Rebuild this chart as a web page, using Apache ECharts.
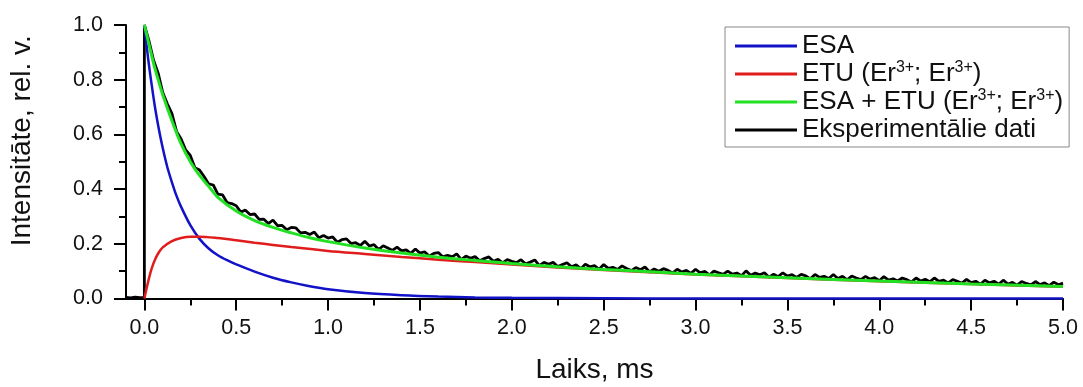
<!DOCTYPE html>
<html>
<head>
<meta charset="utf-8">
<script src="https://cdn.jsdelivr.net/npm/echarts@6/dist/echarts.min.js"></script>
<style>
  html, body { margin: 0; padding: 0; background: #ffffff; }
  #chart { width: 1083px; height: 387px; }
</style>
</head>
<body>
<div id="chart"></div>
<script>
// Luminescence decay: fitted model curves and measured signal

// Axis tick positions
const xMajorTicks = [0, 0.5, 1.0, 1.5, 2.0, 2.5, 3.0, 3.5, 4.0, 4.5, 5.0];
const xMinorTicks = [0.25, 0.75, 1.25, 1.75, 2.25, 2.75, 3.25, 3.75, 4.25, 4.75];

// ESA model
const esaTime  = [0, 0.02, 0.04, 0.06, 0.08, 0.10, 0.125, 0.15, 0.175, 0.2, 0.25, 0.3, 0.35, 0.4, 0.45, 0.5, 0.6, 0.7, 0.8, 0.9, 1.0, 1.2, 1.4, 1.6, 1.8, 2.0, 2.5, 3.0, 4.0, 5.0];
const esaValue = [1.0, 0.88, 0.78, 0.69, 0.615, 0.55, 0.48, 0.425, 0.375, 0.335, 0.268, 0.218, 0.183, 0.158, 0.14, 0.125, 0.098, 0.076, 0.059, 0.045, 0.034, 0.02, 0.012, 0.007, 0.004, 0.0025, 0.001, 0.0, 0.0, 0.0];

// ETU (Er3+; Er3+) model
const etuTime  = [0, 0.02, 0.04, 0.06, 0.08, 0.1, 0.15, 0.2, 0.25, 0.3, 0.4, 0.5, 0.6, 0.7, 0.8, 1.0, 1.2, 1.4, 1.6, 1.8, 2.0, 2.5, 3.0, 3.5, 4.0, 4.5, 5.0];
const etuValue = [0, 0.06, 0.11, 0.145, 0.17, 0.187, 0.21, 0.221, 0.226, 0.226, 0.221, 0.213, 0.204, 0.196, 0.188, 0.174, 0.163, 0.152, 0.142, 0.133, 0.124, 0.104, 0.088, 0.075, 0.063, 0.053, 0.043];

// ESA + ETU (Er3+; Er3+) model
const sumTime  = [0, 0.025, 0.05, 0.075, 0.1, 0.15, 0.2, 0.25, 0.3, 0.35, 0.4, 0.5, 0.6, 0.7, 0.8, 0.9, 1.0, 1.2, 1.4, 1.6, 1.8, 2.0, 2.25, 2.5, 2.75, 3.0, 3.5, 4.0, 4.5, 5.0];
const sumValue = [1.0, 0.93, 0.86, 0.80, 0.745, 0.65, 0.565, 0.50, 0.45, 0.41, 0.37, 0.32, 0.285, 0.26, 0.24, 0.222, 0.208, 0.185, 0.166, 0.151, 0.139, 0.128, 0.116, 0.106, 0.098, 0.089, 0.076, 0.064, 0.053, 0.044];

// Measured signal [time, intensity]
const measured = [
  [-0.1, 0.004], [-0.075, 0.002], [-0.05, 0.005], [-0.025, 0.003], [0, 0.003], [0, 1.0],
  [0.025, 0.942], [0.05, 0.871], [0.075, 0.824], [0.1, 0.753], [0.125, 0.712], [0.15, 0.676],
  [0.175, 0.611], [0.2, 0.583], [0.225, 0.543], [0.25, 0.523], [0.275, 0.478], [0.3, 0.470],
  [0.325, 0.446], [0.35, 0.419], [0.375, 0.415], [0.4, 0.382], [0.425, 0.379], [0.45, 0.351],
  [0.475, 0.347], [0.5, 0.339], [0.525, 0.316], [0.55, 0.323], [0.575, 0.307], [0.6, 0.309],
  [0.625, 0.289], [0.65, 0.290], [0.675, 0.274], [0.7, 0.287], [0.725, 0.266], [0.75, 0.267],
  [0.775, 0.251], [0.8, 0.260], [0.825, 0.258], [0.85, 0.240], [0.875, 0.242], [0.9, 0.234],
  [0.925, 0.243], [0.95, 0.222], [0.975, 0.230], [1.0, 0.221], [1.025, 0.225], [1.05, 0.206],
  [1.075, 0.215], [1.1, 0.218], [1.125, 0.201], [1.15, 0.204], [1.175, 0.194], [1.2, 0.209],
  [1.225, 0.192], [1.25, 0.197], [1.275, 0.179], [1.3, 0.193], [1.325, 0.185], [1.35, 0.176],
  [1.375, 0.188], [1.4, 0.174], [1.425, 0.178], [1.45, 0.165], [1.475, 0.181], [1.5, 0.166],
  [1.525, 0.171], [1.55, 0.155], [1.575, 0.165], [1.6, 0.168], [1.625, 0.152], [1.65, 0.158],
  [1.675, 0.152], [1.7, 0.163], [1.725, 0.142], [1.75, 0.155], [1.775, 0.147], [1.8, 0.153],
  [1.825, 0.138], [1.85, 0.146], [1.875, 0.152], [1.9, 0.136], [1.925, 0.143], [1.95, 0.130],
  [1.975, 0.142], [2.0, 0.136], [2.025, 0.131], [2.05, 0.142], [2.075, 0.126], [2.1, 0.133],
  [2.125, 0.141], [2.15, 0.120], [2.175, 0.132], [2.2, 0.125], [2.225, 0.132], [2.25, 0.117],
  [2.275, 0.124], [2.3, 0.131], [2.325, 0.116], [2.35, 0.123], [2.375, 0.109], [2.4, 0.125],
  [2.425, 0.116], [2.45, 0.120], [2.475, 0.107], [2.5, 0.124], [2.525, 0.110], [2.55, 0.114],
  [2.575, 0.106], [2.6, 0.119], [2.625, 0.110], [2.65, 0.102], [2.675, 0.113], [2.7, 0.105],
  [2.725, 0.115], [2.75, 0.097], [2.775, 0.108], [2.8, 0.100], [2.825, 0.109], [2.85, 0.103],
  [2.875, 0.093], [2.9, 0.107], [2.925, 0.097], [2.95, 0.103], [2.975, 0.092], [3.0, 0.107],
  [3.025, 0.094], [3.05, 0.099], [3.075, 0.086], [3.1, 0.100], [3.125, 0.094], [3.15, 0.088],
  [3.175, 0.100], [3.2, 0.089], [3.225, 0.093], [3.25, 0.083], [3.275, 0.101], [3.3, 0.085],
  [3.325, 0.093], [3.35, 0.087], [3.375, 0.094], [3.4, 0.078], [3.425, 0.089], [3.45, 0.080],
  [3.475, 0.094], [3.5, 0.082], [3.525, 0.087], [3.55, 0.077], [3.575, 0.088], [3.6, 0.083],
  [3.625, 0.072], [3.65, 0.088], [3.675, 0.077], [3.7, 0.081], [3.725, 0.073], [3.75, 0.088],
  [3.775, 0.073], [3.8, 0.081], [3.825, 0.068], [3.85, 0.082], [3.875, 0.075], [3.9, 0.069],
  [3.925, 0.081], [3.95, 0.071], [3.975, 0.076], [4.0, 0.065], [4.025, 0.080], [4.05, 0.067],
  [4.075, 0.072], [4.1, 0.064], [4.125, 0.075], [4.15, 0.069], [4.175, 0.060], [4.2, 0.075],
  [4.225, 0.064], [4.25, 0.070], [4.275, 0.061], [4.3, 0.075], [4.325, 0.063], [4.35, 0.067],
  [4.375, 0.057], [4.4, 0.069], [4.425, 0.063], [4.45, 0.056], [4.475, 0.070], [4.5, 0.058],
  [4.525, 0.063], [4.55, 0.052], [4.575, 0.067], [4.6, 0.057], [4.625, 0.063], [4.65, 0.052],
  [4.675, 0.067], [4.7, 0.053], [4.725, 0.059], [4.75, 0.049], [4.775, 0.062], [4.8, 0.055],
  [4.825, 0.050], [4.85, 0.062], [4.875, 0.051], [4.9, 0.057], [4.925, 0.047], [4.95, 0.060],
  [4.975, 0.050], [5.0, 0.056]
];

const seriesNames = ['ESA', 'ETU (Er3+; Er3+)', 'ESA + ETU (Er3+; Er3+)', 'Eksperimentālie dati'];

const FONT = 'Liberation Sans, Arial, sans-serif';
const pairs = (ts, vs) => ts.map((t, i) => [t, vs[i]]);

const chart = echarts.init(document.getElementById('chart'), null, { renderer: 'canvas' });

const axisColor = '#000000';

chart.setOption({
  animation: false,
  backgroundColor: '#ffffff',
  grid: { left: 126, right: 20, top: 25, bottom: 88.5, containLabel: false, outerBoundsMode: 'none' },
  legend: {
    data: seriesNames,
    orient: 'vertical',
    left: 725,
    top: 27,
    padding: [5, 6, 3, 10],
    itemGap: 0,
    itemWidth: 62,
    itemHeight: 3,
    icon: 'rect',
    selectedMode: false,
    borderColor: '#888888',
    borderWidth: 1,
    formatter: name => name.replace(/3\+/g, '{sup|3+}'),
    textStyle: {
      fontFamily: FONT, fontSize: 26, lineHeight: 28, color: '#111111',
      rich: { sup: { fontFamily: FONT, fontSize: 16, lineHeight: 28, verticalAlign: 'top', color: '#111111' } }
    }
  },
  xAxis: [
    {
      type: 'value', min: -0.1, max: 5.0, position: 'bottom',
      name: 'Laiks, ms', nameLocation: 'middle', nameGap: 58,
      nameTextStyle: { fontFamily: FONT, fontSize: 28, color: '#111111' },
      axisLine: { show: true, onZero: false, lineStyle: { color: axisColor, width: 2 } },
      axisTick: { show: true, customValues: xMajorTicks, length: 12, lineStyle: { color: axisColor, width: 2 } },
      axisLabel: { show: true, customValues: xMajorTicks, margin: 19, fontFamily: FONT, fontSize: 21.5, color: '#111111',
                   formatter: v => Number(v).toFixed(1) },
      splitLine: { show: false }
    },
    {
      type: 'value', min: -0.1, max: 5.0, position: 'bottom',
      axisLine: { show: false },
      axisTick: { show: true, customValues: xMinorTicks, length: 7, lineStyle: { color: axisColor, width: 2 } },
      axisLabel: { show: false },
      splitLine: { show: false }
    }
  ],
  yAxis: {
    type: 'value', min: 0, max: 1.0, interval: 0.2,
    name: 'Intensitāte, rel. v.', nameLocation: 'middle', nameGap: 90, nameRotate: 90,
    nameTextStyle: { fontFamily: FONT, fontSize: 28, color: '#111111', padding: [0, 0, 0, 42] },
    axisLine: { show: true, onZero: false, lineStyle: { color: axisColor, width: 2 } },
    axisTick: { show: true, length: 12, lineStyle: { color: axisColor, width: 2 } },
    minorTick: { show: true, splitNumber: 2, length: 7, lineStyle: { color: axisColor, width: 2 } },
    axisLabel: { margin: 23, fontFamily: FONT, fontSize: 21.5, color: '#111111', formatter: v => v.toFixed(1) },
    splitLine: { show: false },
    minorSplitLine: { show: false }
  },
  series: [
    {
      name: seriesNames[3], type: 'line', xAxisIndex: 0, data: measured,
      showSymbol: false, clip: false,
      lineStyle: { color: '#000000', width: 2.8 }, itemStyle: { color: '#000000' }, z: 2
    },
    {
      name: seriesNames[0], type: 'line', xAxisIndex: 0, data: pairs(esaTime, esaValue),
      showSymbol: false, smooth: 0.3, clip: false,
      lineStyle: { color: '#1212c8', width: 2.5 }, itemStyle: { color: '#1212c8' }, z: 3
    },
    {
      name: seriesNames[1], type: 'line', xAxisIndex: 0, data: pairs(etuTime, etuValue),
      showSymbol: false, smooth: 0.3, clip: false,
      lineStyle: { color: '#e01c1c', width: 2.5 }, itemStyle: { color: '#e01c1c' }, z: 4
    },
    {
      name: seriesNames[2], type: 'line', xAxisIndex: 0, data: pairs(sumTime, sumValue),
      showSymbol: false, smooth: 0.3, clip: false,
      lineStyle: { color: '#22e022', width: 3 }, itemStyle: { color: '#22e022' }, z: 5
    }
  ]
});
</script>
</body>
</html>
